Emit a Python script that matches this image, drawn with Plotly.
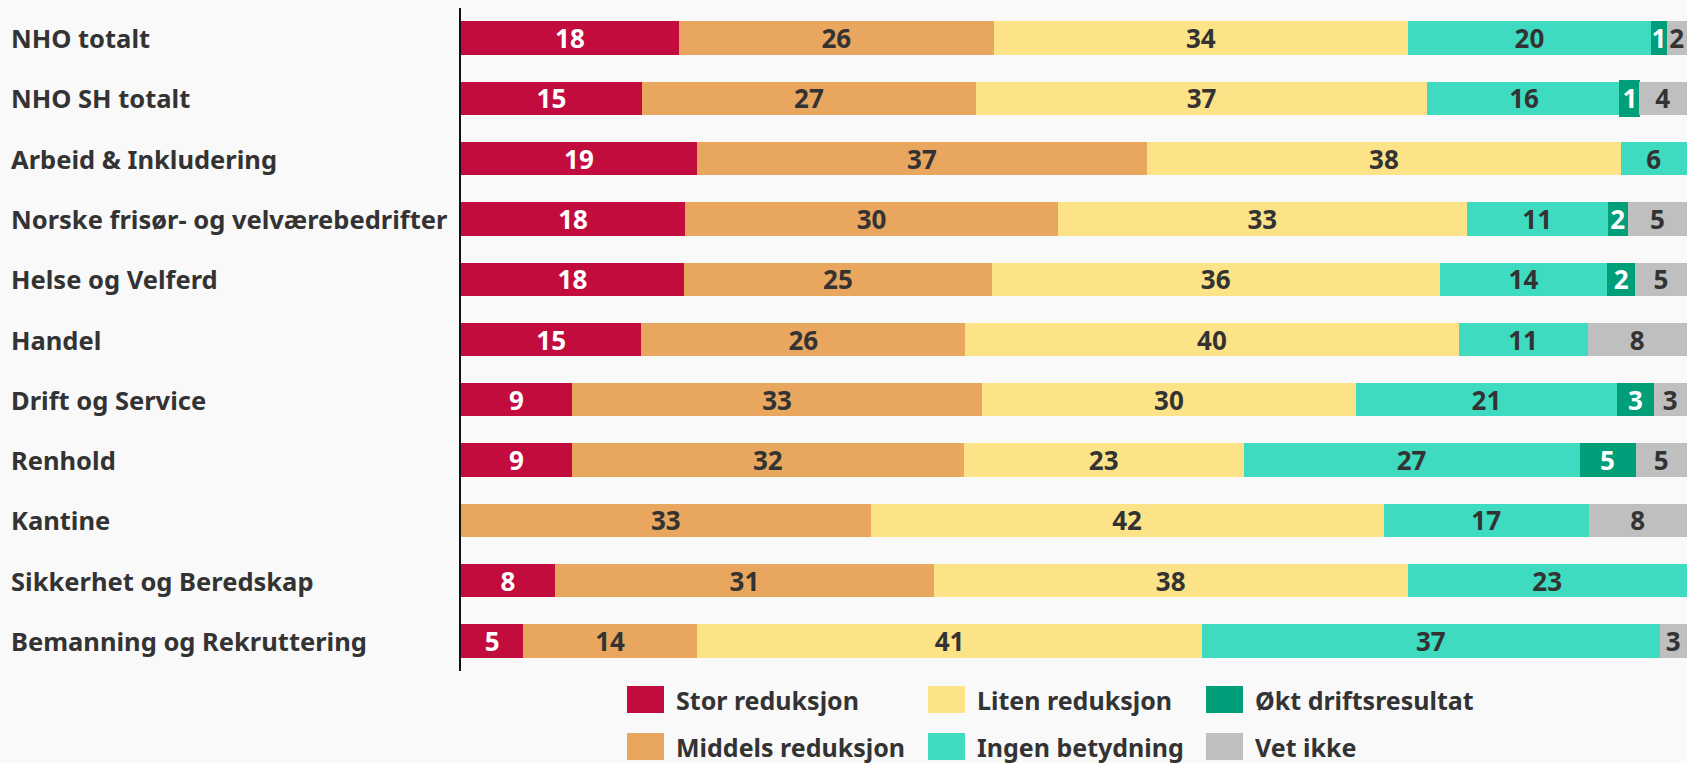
import plotly.graph_objects as go

categories = ["NHO totalt", "NHO SH totalt", "Arbeid & Inkludering",
              "Norske frisør- og velværebedrifter", "Helse og Velferd", "Handel",
              "Drift og Service", "Renhold", "Kantine", "Sikkerhet og Beredskap",
              "Bemanning og Rekruttering"]

# bar widths (share, %) as drawn
stor = [17.77, 14.76, 19.25, 18.29, 18.19, 14.71, 9.05, 9.05, None, 7.67, 5.09]
middels = [25.71, 27.26, 36.72, 30.41, 25.12, 26.44, 33.48, 31.97, 33.41, 30.9, 14.16]
liten = [33.76, 36.81, 38.65, 33.34, 36.53, 40.23, 30.46, 22.83, 41.87, 38.66, 41.22]
ingen = [19.86, 15.8, 5.38, 11.51, 13.69, 10.53, 21.33, 27.4, 16.73, 22.77, 37.31]
okt = [1.27, 1.45, None, 1.66, 2.25, None, 2.97, 4.57, None, None, None]
vet = [1.63, 3.92, None, 4.79, 4.21, 8.09, 2.71, 4.18, 7.99, None, 2.22]

# printed percentages
stor_lbl = [18, 15, 19, 18, 18, 15, 9, 9, None, 8, 5]
middels_lbl = [26, 27, 37, 30, 25, 26, 33, 32, 33, 31, 14]
liten_lbl = [34, 37, 38, 33, 36, 40, 30, 23, 42, 38, 41]
ingen_lbl = [20, 16, 6, 11, 14, 11, 21, 27, 17, 23, 37]
okt_lbl = [1, 1, None, 2, 2, None, 3, 5, None, None, None]
vet_lbl = [2, 4, None, 5, 5, 8, 3, 5, 8, None, 3]

series_names = ["Stor reduksjon", "Middels reduksjon", "Liten reduksjon",
                "Ingen betydning", "Økt driftsresultat", "Vet ikke"]
series_values = [stor, middels, liten, ingen, okt, vet]
series_labels = [stor_lbl, middels_lbl, liten_lbl, ingen_lbl, okt_lbl, vet_lbl]
series_colors = ["#C20C3D", "#E8A65E", "#FDE388", "#3EDBC1", "#009E79", "#BFBFBF"]
text_colors = ["#FFFFFF", "#333333", "#333333", "#333333", "#FFFFFF", "#333333"]

FONT = "Noto Sans"
W, H = 1687, 763
L, R, T, B = 461, 0, 8, 92
PW, PH = W - L - R, H - T - B

fig = go.Figure()
for i, (name, vals, lbls, col, tcol) in enumerate(
        zip(series_names, series_values, series_labels, series_colors, text_colors)):
    line_w = 0
    if name == "Økt driftsresultat":
        line_w = [3 if k == 1 else 0 for k in range(len(categories))]
    fig.add_trace(go.Bar(
        y=categories, x=vals, name=name, orientation="h",
        marker=dict(color=col, line=dict(width=line_w, color=col)),
        text=["" if v is None else str(v) for v in lbls],
        texttemplate="%{text}", textposition="inside", insidetextanchor="middle",
        textangle=0, constraintext="none", cliponaxis=False,
        textfont=dict(family=FONT, size=26, color=tcol, weight="bold"),
        showlegend=False, hoverinfo="skip",
    ))

annotations = []
for c in categories:
    annotations.append(dict(
        x=0, y=c, xref="paper", yref="y", xshift=-452, xanchor="left", yanchor="middle",
        text=c, showarrow=False,
        font=dict(family=FONT, size=25.5, color="#333333", weight="bold"),
    ))

# legend drawn as 3 columns x 2 rows
def px_x(px):
    return (px - L) / PW

def px_y(py):
    return (H - B - py) / PH

col_x = [627, 928, 1206]
row_y = [699.5, 746.5]
order = [(0, 0), (0, 1), (1, 0), (1, 1), (2, 0), (2, 1)]
shapes = []
for (ci, ri), name, col in zip(order, series_names, series_colors):
    x0 = col_x[ci]
    yc = row_y[ri]
    shapes.append(dict(type="rect", xref="paper", yref="paper",
                       x0=px_x(x0), x1=px_x(x0 + 37), y0=px_y(yc - 13.5), y1=px_y(yc + 13.5),
                       fillcolor=col, line=dict(width=0)))
    annotations.append(dict(x=px_x(x0 + 47), y=px_y(yc), xref="paper", yref="paper",
                            xanchor="left", yanchor="middle", text=name, showarrow=False,
                            font=dict(family=FONT, size=25, color="#333333", weight="bold")))

fig.update_layout(
    width=W, height=H, barmode="stack", bargap=0.447,
    margin=dict(l=L, r=R, t=T, b=B),
    paper_bgcolor="#F9F9F9", plot_bgcolor="#F9F9F9",
    xaxis=dict(range=[0, 100.02], visible=False, fixedrange=True),
    yaxis=dict(autorange="reversed", showticklabels=False, ticks="", showgrid=False,
               showline=True, linecolor="#111111", linewidth=2, zeroline=False),
    uniformtext=dict(minsize=26, mode="show"),
    annotations=annotations, shapes=shapes,
)

fig.write_html("out.html", config={"displayModeBar": False},
               post_script="document.body.style.margin='0';document.body.style.overflow='hidden';")
